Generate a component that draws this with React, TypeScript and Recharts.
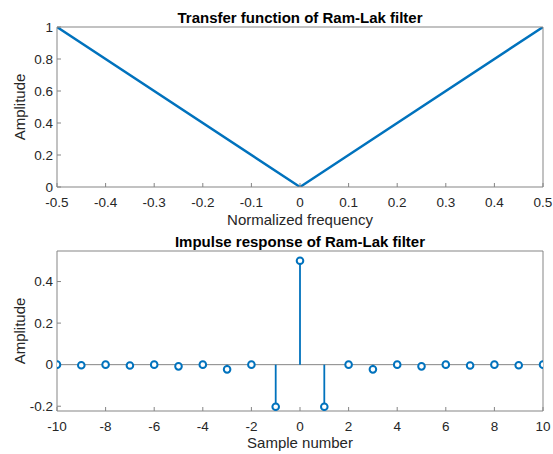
import { ComposedChart, Line, Scatter, XAxis, YAxis, ReferenceLine } from 'recharts';

// transfer function (ramp)
const freq = [-0.5, 0, 0.5];
const gain = [1, 0, 1];
const freqTicks = [-0.5, -0.4, -0.3, -0.2, -0.1, 0, 0.1, 0.2, 0.3, 0.4, 0.5];
const gainTicks = [0, 0.2, 0.4, 0.6, 0.8, 1];

// impulse response samples
const samples = [-10, -9, -8, -7, -6, -5, -4, -3, -2, -1, 0, 1, 2, 3, 4, 5, 6, 7, 8, 9, 10];
const impulse = [
  0, -0.0025, 0, -0.0041, 0, -0.0081, 0, -0.0225, 0, -0.2026, 0.5,
  -0.2026, 0, -0.0225, 0, -0.0081, 0, -0.0041, 0, -0.0025, 0,
];
const sampleTicks = [-10, -8, -6, -4, -2, 0, 2, 4, 6, 8, 10];
const impulseTicks = [-0.2, 0, 0.2, 0.4];

const BLUE = '#0072BD';
const AXIS = '#858585';
const TEXT = '#262626';
const FONT = '"Liberation Sans", Arial, Helvetica, sans-serif';

const tickStyle = { fontSize: 13.5, fill: TEXT, fontFamily: FONT };

const rampData = freq.map((f, i) => ({ f, a: gain[i] }));
const stemData = samples.map((n, i) => ({ n, h: impulse[i] }));

const StemHead = (props: any) => {
  const { cx, cy } = props;
  if (cx == null || cy == null) return null;
  return <circle cx={cx} cy={cy} r={3.3} fill="#fff" stroke={BLUE} strokeWidth={2} />;
};

export default function App() {
  return (
    <div style={{ position: 'absolute', left: 0, top: 0, width: 553, height: 454, background: '#fff' }}>
      <div style={{ position: 'absolute', left: 0, top: 0 }}>
        <ComposedChart width={553} height={230} data={rampData} margin={{ top: 26, right: 9, bottom: 13, left: 0 }}>
          <XAxis
            dataKey="f"
            type="number"
            domain={[-0.5, 0.5]}
            ticks={freqTicks}
            interval={0}
            height={30}
            tickSize={-4}
            tickMargin={14}
            stroke={AXIS}
            tick={tickStyle}
            tickFormatter={(v) => String(v)}
            allowDataOverflow
          />
          <XAxis
            xAxisId="top"
            orientation="top"
            type="number"
            domain={[-0.5, 0.5]}
            ticks={freqTicks}
            interval={0}
            height={1}
            tickSize={-4}
            tick={false}
            stroke={AXIS}
            allowDataOverflow
          />
          <YAxis
            type="number"
            domain={[0, 1]}
            ticks={gainTicks}
            interval={0}
            width={57}
            tickSize={-4}
            tickMargin={8}
            stroke={AXIS}
            tick={tickStyle}
            tickFormatter={(v) => String(v)}
            allowDataOverflow
          />
          <YAxis
            yAxisId="right"
            orientation="right"
            type="number"
            domain={[0, 1]}
            ticks={gainTicks}
            interval={0}
            width={1}
            tickSize={-4}
            tick={false}
            stroke={AXIS}
            allowDataOverflow
          />
          <Line
            type="linear"
            dataKey="a"
            stroke={BLUE}
            strokeWidth={2.4}
            dot={false}
            isAnimationActive={false}
          />
        </ComposedChart>
      </div>

      <div style={{ position: 'absolute', left: 0, top: 230 }}>
        <ComposedChart width={553} height={224} data={stemData} margin={{ top: 20, right: 9, bottom: 13, left: 0 }}>
          <XAxis
            dataKey="n"
            type="number"
            domain={[-10, 10]}
            ticks={sampleTicks}
            interval={0}
            height={30}
            tickSize={-4}
            tickMargin={14}
            stroke={AXIS}
            tick={tickStyle}
            allowDataOverflow
          />
          <XAxis
            xAxisId="top"
            orientation="top"
            type="number"
            domain={[-10, 10]}
            ticks={sampleTicks}
            interval={0}
            height={1}
            tickSize={-4}
            tick={false}
            stroke={AXIS}
            allowDataOverflow
          />
          <YAxis
            dataKey="h"
            type="number"
            domain={[-0.223, 0.547]}
            ticks={impulseTicks}
            interval={0}
            width={57}
            tickSize={-4}
            tickMargin={8}
            stroke={AXIS}
            tick={tickStyle}
            tickFormatter={(v) => String(v)}
            allowDataOverflow
          />
          <YAxis
            yAxisId="right"
            orientation="right"
            type="number"
            domain={[-0.223, 0.547]}
            ticks={impulseTicks}
            interval={0}
            width={1}
            tickSize={-4}
            tick={false}
            stroke={AXIS}
            allowDataOverflow
          />
          <ReferenceLine y={0} stroke={AXIS} strokeWidth={1} />
          {stemData.map((d) => (
            <ReferenceLine
              key={d.n}
              segment={[{ x: d.n, y: 0 }, { x: d.n, y: d.h }]}
              stroke={BLUE}
              strokeWidth={1.8}
            />
          ))}
          <Scatter data={stemData} dataKey="h" shape={StemHead} isAnimationActive={false} />
        </ComposedChart>
      </div>

      {/* titles and axis labels */}
      <svg width={553} height={454} style={{ position: 'absolute', left: 0, top: 0, pointerEvents: 'none' }}>
        <g fontFamily={FONT}>
          <text x={300} y={22.5} textAnchor="middle" fontSize={15} fontWeight="bold" fill="#000">
            Transfer function of Ram-Lak filter
          </text>
          <text x={300} y={224.5} textAnchor="middle" fontSize={15} fill={TEXT}>
            Normalized frequency
          </text>
          <text transform="translate(25,107) rotate(-90)" textAnchor="middle" fontSize={15} fill={TEXT}>
            Amplitude
          </text>
          <text x={300} y={246.5} textAnchor="middle" fontSize={15} fontWeight="bold" fill="#000">
            Impulse response of Ram-Lak filter
          </text>
          <text x={300} y={448} textAnchor="middle" fontSize={15} fill={TEXT}>
            Sample number
          </text>
          <text transform="translate(25,331) rotate(-90)" textAnchor="middle" fontSize={15} fill={TEXT}>
            Amplitude
          </text>
        </g>
      </svg>
    </div>
  );
}
